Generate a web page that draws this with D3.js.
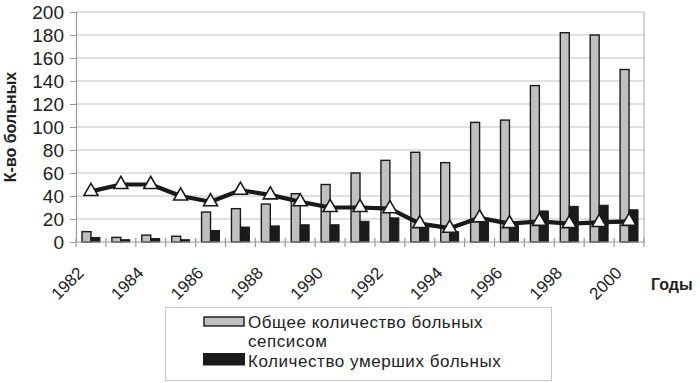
<!DOCTYPE html>
<html><head><meta charset="utf-8">
<script src="https://cdn.jsdelivr.net/npm/d3@7"></script>
<style>body{margin:0;background:#fff}svg{display:block}text{font-family:Arial,"Liberation Sans",sans-serif}</style>
</head><body>
<svg id="c" width="700" height="383"></svg>
<script>
const years = [1982,1983,1984,1985,1986,1987,1988,1989,1990,1991,1992,1993,1994,1995,1996,1997,1998,1999,2000];
const totalSepsis = [9,4,6,5,26,29,33,42,50,60,71,78,69,104,106,136,182,180,150];
const deaths = [4,2,3,2,10,13,14,15,15,18,21,13,9,20,17,27,31,32,28];
const lineValues = [44,50,50,40,35,45,41,35,30,30,29,16,12,21,16,18,16,17,18];
const yTicks = [0,20,40,60,80,100,120,140,160,180,200];
const xLabelYears = [1982,1984,1986,1988,1990,1992,1994,1996,1998,2000];
const legendLabels = [["Общее количество больных","сепсисом"],["Количество умерших больных"]];
const yTitle = "К-во больных";
const xTitle = "Годы";

const svg = d3.select("#c");
const L = 76, R = 644, T = 12, B = 242;
const x = d3.scaleBand().domain(years).range([L, R]).padding(0);
const y = d3.scaleLinear().domain([0, 200]).range([B, T]);
const bw = x.bandwidth() * 0.3;
const cx = d => x(d) + x.bandwidth() / 2;

// gridlines
svg.append("g").selectAll("line").data(yTicks.filter(d => d > 0)).join("line")
  .attr("x1", L).attr("x2", R).attr("y1", d => y(d)).attr("y2", d => y(d))
  .attr("stroke", "#c4c4c4").attr("stroke-width", 1.2);
// right border
svg.append("line").attr("x1", R).attr("x2", R).attr("y1", T).attr("y2", B)
  .attr("stroke", "#b4b4b4").attr("stroke-width", 1.2);

// y axis
const yAxis = svg.append("g").attr("transform", `translate(${L},0)`)
  .call(d3.axisLeft(y).tickValues(yTicks).tickSize(6).tickPadding(6));
yAxis.select(".domain").attr("stroke", "#9a9a9a").attr("stroke-width", 1.2);
yAxis.selectAll(".tick line").attr("stroke", "#9a9a9a");
yAxis.selectAll(".tick text").attr("font-size", 19).attr("fill", "#222");

// x axis ticks at band boundaries
const bounds = years.map(d => x(d)).concat([R]);
svg.append("g").selectAll("line").data(bounds).join("line")
  .attr("x1", d => d).attr("x2", d => d).attr("y1", B - 4).attr("y2", B + 5)
  .attr("stroke", "#9a9a9a").attr("stroke-width", 1.2);

// bars
svg.append("g").selectAll("rect").data(years).join("rect")
  .attr("x", d => cx(d) - bw)
  .attr("y", (d, i) => y(totalSepsis[i]))
  .attr("width", bw)
  .attr("height", (d, i) => B - y(totalSepsis[i]))
  .attr("fill", "#c0c0c0").attr("stroke", "#1a1a1a").attr("stroke-width", 1.4);
svg.append("g").selectAll("rect").data(years).join("rect")
  .attr("x", d => cx(d))
  .attr("y", (d, i) => y(deaths[i]))
  .attr("width", bw)
  .attr("height", (d, i) => B - y(deaths[i]))
  .attr("fill", "#1c1a1a").attr("stroke", "#1a1a1a").attr("stroke-width", 1);

svg.append("line").attr("x1", L).attr("x2", R).attr("y1", B).attr("y2", B)
  .attr("stroke", "#9a9a9a").attr("stroke-width", 1.2);

// line
const line = d3.line().x((d, i) => cx(years[i])).y(d => y(d));
svg.append("path").datum(lineValues).attr("d", line)
  .attr("fill", "none").attr("stroke", "#1a1a1a").attr("stroke-width", 4.2).attr("stroke-linejoin", "round");
svg.append("g").selectAll("path").data(lineValues).join("path")
  .attr("d", d3.symbol().type(d3.symbolTriangle).size(85))
  .attr("transform", (d, i) => `translate(${cx(years[i])},${y(d)})`)
  .attr("fill", "#fff").attr("stroke", "#1a1a1a").attr("stroke-width", 1.6);

// x labels
svg.append("g").selectAll("text").data(xLabelYears).join("text")
  .attr("transform", d => `translate(${cx(d) - 6},274) rotate(-45)`)
  .attr("text-anchor", "end").attr("font-size", 17).attr("fill", "#222")
  .text(d => d);

// axis titles
svg.append("text").attr("transform", "translate(16,127) rotate(-90)")
  .attr("text-anchor", "middle").attr("font-size", 16).attr("font-weight", "bold").attr("fill", "#222")
  .text(yTitle);
svg.append("text").attr("x", 651).attr("y", 290).attr("font-size", 16).attr("font-weight", "bold").attr("fill", "#222")
  .text(xTitle);

// legend
svg.append("rect").attr("x", 165.5).attr("y", 307.5).attr("width", 386).attr("height", 73)
  .attr("fill", "#fff").attr("stroke", "#c8c8c8").attr("stroke-width", 1);
svg.append("rect").attr("x", 204).attr("y", 317).attr("width", 40).attr("height", 9)
  .attr("fill", "#c0c0c0").attr("stroke", "#1a1a1a").attr("stroke-width", 1.4);
svg.append("rect").attr("x", 203).attr("y", 353).attr("width", 42).attr("height", 12.5)
  .attr("fill", "#1c1a1a");
const lt = svg.append("g").attr("font-size", 17).attr("letter-spacing", 0.55).attr("fill", "#222");
lt.append("text").attr("x", 248).attr("y", 327.5).text(legendLabels[0][0]);
lt.append("text").attr("x", 248).attr("y", 347).text(legendLabels[0][1]);
lt.append("text").attr("x", 248).attr("y", 367).text(legendLabels[1][0]);
</script>
</body></html>
